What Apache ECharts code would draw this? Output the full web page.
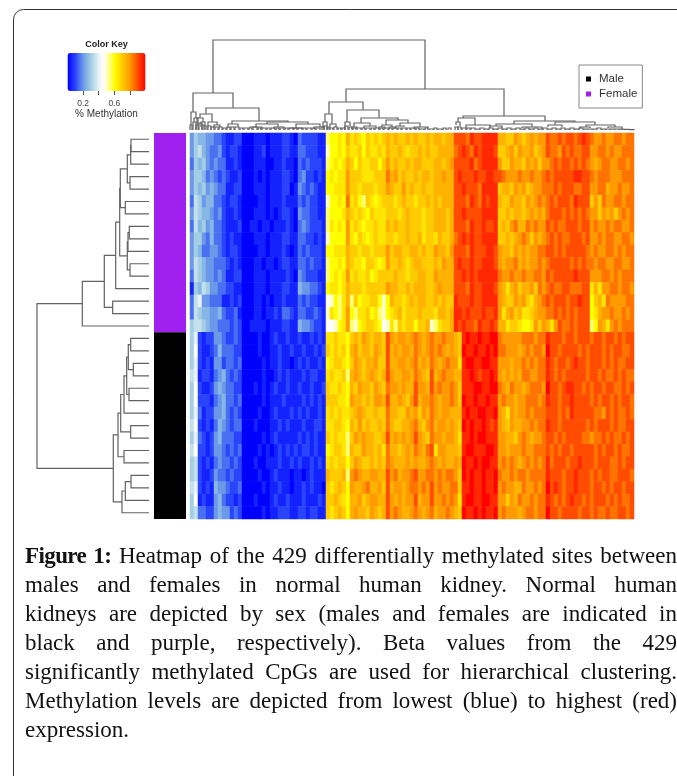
<!DOCTYPE html>
<html>
<head>
<meta charset="utf-8">
<script src="https://cdn.jsdelivr.net/npm/echarts@6/dist/echarts.min.js"></script>
<style>
html,body{margin:0;padding:0;background:#fff;overflow:hidden}
#chart{position:absolute;left:0;top:0;width:677px;height:776px}
#caption{position:absolute;left:25px;top:541px;width:652px;font-family:"Liberation Serif",serif;font-size:23px;line-height:29px;color:#111}
#caption div{text-align:justify;text-align-last:justify;white-space:nowrap}
#caption div:last-child{text-align-last:left}
#caption b{letter-spacing:-0.6px}
</style>
</head>
<body>
<div id="chart"></div>
<div id="caption"></div>
<script>
const levelColors = ['#0000ff','#1422ff','#2a44fb','#4a70f2','#6c98ea','#88b6e6','#a4cee6','#c4e0ec','#e6f2f6','#ffffff','#ffffc8','#ffff70','#ffff00','#ffe600','#ffcc00','#ffb300','#ff9a00','#ff7400','#ff4c00','#ff2800','#ff0000'];
const femaleBlue = [
'egffeeddc bbcc aaabbbabbb ccba dccccbb','eghfeddec bccb aaabbcabbb ccbb ddcccbb','dgfgededd bbcb aaabbbaabb cbba dcdcccb','eggfdedcd cbbc aaabababbb ccba deccbcb',
'egfgefedd bbcc aaabbbabbb ccab edcdcbb','dhgeffddc bccb aaaabbabbb cbbb dcdccbb','ehgffedec bbcb aaabbbabab ccba eddccbb','dhfgefddc bbbc aabbabbabb bcba dedcccb',
'eggedfddc bcbb aaabbbabbb ccbb ddccbcb','egfddeedc bccb aaaabbabbb cbab dcdcccb','ehgfeeddd cbcb aaabbabbab ccbb ddcdccb','dhgfeeded bbcc aaabbbabbb bcba edcccbb',
'bgfhgeedd ccbb aaabbbabbb ccbb feeddcb','dhieedddb bcbc aaabbababb cbbb dcdccbb','dhgffeefd ccdb aaabbabbcb ddcb ddccdcb','ghhgfeedd dcdc aabbbbabbb ccbb feedccb'];
const femaleYellow = [
'lmmnm p nonmonono p opoopopoopoppopp s','kmmnm o nnomonnon p ooponoopopoopppp r','lmnmn p omonnoomo q opoopoppoooppopq s','mnmnn q ooonnnooo r pqopoopoppoppqpp s',
'mmnnn q oonooonoo q pooqopoopooppppp s','kmmnm r nomlonmno o onopoonoopopoppp s','lmmmn p ononmonnn o oonopooonoopppop s','lnmnm q nonmnnonn p opoopooonoopppop s',
'kmmmm q nmonmnonn o onoopoopnoonpoop r','mmnnn p oonoonooo q oppooppopooqppoq s','lmmnm p onnmoonmn q ooponoppooopoqpp s','lmnmn q nonnomnoo o opoonooppooqpppp s',
'mnnmn p ooonooooo q ppoopopppoopqppp s','jkmln p lomnnoomk m poonopoppoopopoo t','knmln q mlnnomnlk m nopnooopooonppop t','jjkmn q lkmnoonmj k nlonoomoopklnoop t'];
const femaleRed = [
'ssrtsstttt ppooqpopqpqq srrsrssrsts rqqrqqrrqrr','stsrtsttts oopqoqppqopq srrqsrsrrss qqrrqrqqrrr','ssstrstttt qooqppoqpqoq qrsrssrsrsr qpqrrqqrrqr','tssstsstts srqqqrqqrqqr srsssssttss rqrrrqqqrrr',
'stsssrtttt oppoqpqopqqr rrsrsssrrss qqrrpqqrqqr','ssrtsrtstt pooqppoqpqrq rsrsssrtsss oqorqqrrqrr','stsssstttt oopoppopqpqp rsssrsrsrsr qqoqpqoqrqr','ssrtsstsst opoqrpprqrqq srsrrsssrss qrqqrqrrqqr',
'ststsstttt oopopqrqoqpq rsrsrrsssrs qqrqrrqqrrq','ssrtssstts qppoqpqpqqrr ssrsrsssssr qrqqrrqrqrr','tsstssttts qpqqrpqpqqrq rsssssrsrsr rqrrqqrrqqr','stststtttt rqqrqqrqqrrq srssssstsss qqqrrqrqrrr',
'ssrtssttts qpnpqoppqorq rsrrssrrrss npnqqrrqrrq','ssstsstttt qpooqpqonpqr srsssrsstss mopnrqqqqrr','tstssstsst qnpqopnnopqq rrsrsrsrsss mnpqqrqqrqr','stssrtssts ppnoonmmnqoq pnqsrrsrsss lmqpnqrqrrr'];
const maleBlue = [
'gi cbcc eedc cdc aa aabaab cbbcb bcbbcbcb','gj cbbc dfdd dcc aa aabaab bcbbc bbcbbcbc','gi cbcb eecd dcd aa aaabab bcbba bcbcbbcb','hi bccb defd cdc aa aaabaa bcbcb bbcbccbb','gj cbbc efed dcc aa ababab cbbcb bcbbcbbc',
'gj cccb defd dcd aa aaabab bbcbb bbcbcbcb','gi dbcc eefd cdc aa aabaab cbbbc bcbcbbcb','hj cbcb dfed cdd aa abaaab bcbcb bbcbbccb','gi dcbc efdd dcc aa aaabab cbbbb bcbcbcbb','hj ccbc eedc dcd aa aababa bcbcb cbccbcbb',
'gh cbcb dedd cdc aa abaabb bcbbc bcbbcbcb','gh cbbc eddc dcc aa aabaab cbbba bbabcbbb','hi cbcb feed ccd aa aaabab bcbba bbcbcbba','gj bcbb efdc cbc aa abaaab cbbcb bbcbbbcb','gh ddcc efee cdc aa aaabab bcccb bccbccbb'];
const maleYellow = [
'nnonn m opoqpoppo s qpqqpq r qpq r qqrqqp','onono m pqoppoqpo s pqpqqp r qpq r qrqpqp','mnoon m oqpoppqoo s ppqqpq r pqp r qpqrqq','nonno l pqpopqpop s qppqqp r qpo s pqrqqp','onnon m poqppoqpo r qqpqpp s qqp s qrqqrq',
'ooonn m qppopoqqp s ppqpoq s pqq r qpqqrq','nonon n opqpoopoo r ppooqp q oqp r qpqqpp','nnoon m poqopoopo r pooppq r poq r pqqpqp','ononn l oqpqppoop s pqpqpq s qpo r qqpqqp','mnoon l pooqppopn r ppopqp r qpr s nqqppp',
'nonoo m oqpoopopo r qpppqp q ppq r qpqppq','pooop l qrqppqqpp s qrpqqr s qqr r qrqrrq','onopo m qppqrppqo s pqqpqr r qrq s qrqqrr','oopon m ppqopqqpp s qpqpqq s pqq s qqrqrq','onopo m pqppoqpop s qrqppq r qpq r pqqrqp'];
const maleRed = [
'o tuttuttuu rqqqqqrrrqrr tsssrssrsssrssrssrsrss','o uttuttutu rrqqqpqrqrrq ussrssssrsrsssrsrssrrs','n tuuttuutt qqqpqqrqrqrr tsrssrstssrsssrsrsrrss','p ttutsttut qpqpqprrqqrr tsrsrsssssrssrsrrsrsrr','o tttuuttuu rqprqqpqrrrq ussrsttssrsrssrssrrsrs',
'o uttuttutt qrqqpqqrrrqr tssrsstssssrsrssrsrssr','p tuttuuttu qpnqpqqrqrrr sssrsrtsssssrrqsrsrrsr','o ututtutst qpoqppqqrqrr tssrssssssrsrsssrsrrss','n ttutuuttt qqppoqrqpqqr ssrsrssssrrqrrsrsrrsrs','o tuutttuut qqpqqqrqqrrr srsrssrsssssrsrssrsrrs',
'p uttutuutt qrqrqpqrqrqr trsssrsstsssrsssrrsrss','o ututtuttu rqqrqrrqrrrr tsssrsstsssrsrssrrsssr','o ttuttuttu qrqqpprqqrqr ustsrsstsssrssrsrssrss','n tuuttuutt qqoqprqqrqrr tsrsrstssrsrsssrsrsrrs','o uttututtu qrqqqpqrrqrr ussrssssrssrsrrsrrssrs'];

// Sample groups
const sexGroups = [{name:'Female',count:16,color:'#a020f0'},{name:'Male',count:15,color:'#000000'}];
const legendOrder = ['Male','Female'];

// Row dendrogram in hclust style: negative = leaf -(row+1), positive = earlier merge number, then height
const rowMerges = [
[-1,-2,18],[1,-3,18.3],[-4,-5,19],[2,3,21.7],[-6,-7,23.7],[4,5,28.7],[-8,-9,19.7],[7,-10,21],[-11,-12,19],[8,9,21.7],[6,10,29.3],[11,-13,33.3],[-14,-15,36.3],[12,13,44.7],[14,-16,66.7],
[-17,-18,18.3],[-19,-20,15.7],[16,17,20.7],[-21,-22,20],[18,19,22.3],[20,-23,25],[-24,-25,18.3],[21,22,28.3],[-26,-27,25],[23,24,31],[-28,-29,18],[26,-30,23.7],[27,-31,27],[25,28,35.7],[15,29,112]];

// Column dendrogram: [left position, left height, right position, right height, join height]
const columnMerges = [
[23,37,235,41,90],[3,18,43,22,37],[16,16,69,9,22],[1,5,6,12,18],[4,8,8,5,12],[10,12,22,8,16],[7,6,13,8,12],[11,3,15,4,8],[18,4,27,5,8],[24,2,30,3,5],
[42,6,98,8,9],[38,2,48,3,6],[77,6,118,6,8],[66,3,88,3,6],[106,2,130,3,6],[60,2,72,1,3],[84,1,94,2,3],[100,1,112,1,2],[124,1,134,2,3],
[156,28,314,14,41],[139,16,173,20,28],[135,8,142,6,16],[133,3,137,4,8],[140,2,146,3,6],[157,8,189,12,20],[155,2,160,4,8],[171,7,208,10,12],[164,3,180,4,7],[162,1,167,2,3],[174,2,186,2,4],
[196,5,218,7,10],[192,3,202,3,5],[210,4,230,3,7],[206,2,214,3,4],[224,1,238,2,3],[189,1,195,1,3],[199,1,205,1,3],
[273,12,355,9,14],[268,8,285,5,12],[266,5,270,4,8],[276,2,300,3,5],[324,6,385,8,9],[306,4,342,3,6],[300,2,312,2,4],[332,2,352,1,3],[365,5,405,5,8],[358,3,372,3,5],[396,3,425,3,5],[418,2,432,1,3],[390,1,400,2,3]];

// Finest joins along the baseline: [position, width, height]
const columnLeaves = [
[0,2,5],[3,3,8],[6,2,5],[9,3,7],[12,2,5],[15,2,4],[18,3,4],[21,3,3],[25,3,3],[29,3,3],[33,3,2],[37,3,3],[41,3,3],[45,4,3],[50,3,2],[54,4,2],[59,3,2],[63,4,3],[68,3,2],[72,4,2],[77,3,2],[81,4,2],[86,3,2],[90,4,2],[95,3,2],[99,4,2],[104,3,2],[108,4,2],[113,3,2],[117,4,2],[122,3,2],[126,4,2],
[132,2,3],[134,3,4],[137,2,3],[140,3,2],[144,3,3],[148,3,2],[152,3,2],[155,3,4],[159,3,3],[163,3,2],[167,4,2],[172,3,2],[176,4,2],[181,3,2],[185,4,2],[190,3,2],[194,4,2],[199,3,2],[203,4,2],[208,3,2],[212,4,2],[217,3,2],[221,4,2],[226,3,2],[230,4,1],[235,3,2],[239,4,1],[244,3,2],[248,4,1],[253,3,2],
[258,3,2],[265,3,3],[268,3,3],[272,4,2],[277,3,2],[281,4,2],[286,3,1],[290,4,2],[295,3,1],[299,4,2],[304,3,1],[308,4,2],[313,3,1],[317,4,2],[322,3,1],[326,4,2],[331,3,1],[335,4,2],[340,3,1],[344,4,2],[349,3,1],[353,4,2],[358,3,1],[362,4,2],[367,3,1],[371,4,2],[376,3,1],[380,4,2],[385,3,1],[389,4,2],[394,3,1],[398,4,1],[403,3,1],[407,4,2],[412,3,1],[416,4,1],[421,3,1],[425,4,1],[430,3,.8],[434,5,.6],[439,5,.4]];

const keyTicks = [0.2,0.4,0.6,0.8];
const keyLabels = [0.2,0.6];
const captionLines = [
'<b>Figure 1:</b> Heatmap of the 429 differentially methylated sites between',
'males and females in normal human kidney. Normal human',
'kidneys are depicted by sex (males and females are indicated in',
'black and purple, respectively). Beta values from the 429',
'significantly methylated CpGs are used for hierarchical clustering.',
'Methylation levels are depicted from lowest (blue) to highest (red)',
'expression.'];

document.getElementById('caption').innerHTML = captionLines.map(l => '<div>' + l + '</div>').join('');

const SITES = 111, BLUE = 34, YEL = 33, RED = 44;
const clean = (s, n) => { s = s.replace(/\s/g,''); while (s.length < n) s += s[s.length-1]; return s.slice(0,n); };
const rows = [];
femaleBlue.forEach((s,i) => rows.push(clean(s,BLUE) + clean(femaleYellow[i],YEL) + clean(femaleRed[i],RED)));
maleBlue.forEach((s,i) => rows.push(clean(s,BLUE) + clean(maleYellow[i],YEL) + clean(maleRed[i],RED)));
const heat = [];
rows.forEach((r,y) => { for (let x = 0; x < SITES; x++) heat.push([x, y, (r.charCodeAt(x) - 97) / 20]); });

// row tree geometry from the merge list
const nodes = {};
const pos = id => id < 0 ? {y: -id - 0.5, h: 0} : nodes[id];
const rowSegs = rowMerges.map((m,i) => {
  const a = pos(m[0]), b = pos(m[1]);
  nodes[i+1] = {y: (a.y + b.y) / 2, h: m[2]};
  return [a.h, a.y, b.h, b.y, m[2]];
});
const topSegs = columnMerges.concat(columnLeaves.map(l => [l[0], 0, l[0] + l[1], 0, l[2]]));

const STROKE = '#626262';
const topTree = (p, api) => {
  const a = api.coord([api.value(0), api.value(1)]), b = api.coord([api.value(2), api.value(3)]);
  const ya = api.coord([0, api.value(4)])[1];
  return {type:'polyline', shape:{points:[a,[a[0],ya],[b[0],ya],b]}, style:{stroke:STROKE, fill:null, lineWidth:1.2}};
};
const sideTree = (p, api) => {
  const a = api.coord([api.value(0), api.value(1)]), b = api.coord([api.value(2), api.value(3)]);
  const xa = api.coord([api.value(4), 0])[0];
  return {type:'polyline', shape:{points:[a,[xa,a[1]],[xa,b[1]],b]}, style:{stroke:STROKE, fill:null, lineWidth:1.2}};
};
const FONT = '"Liberation Sans",Arial,sans-serif';
const total = sexGroups.reduce((s,g) => s + g.count, 0);

const chart = echarts.init(document.getElementById('chart'), null, {renderer:'canvas', width:677, height:776});
chart.setOption({
  animation:false,
  backgroundColor:'#fff',
  graphic:[{type:'rect', shape:{x:13.5,y:9.5,width:720,height:830,r:10}, style:{fill:'none',stroke:'#333',lineWidth:1}, silent:true, z:-1}],
  title:[{text:'Color Key', left:106.5, top:40, textAlign:'center', textStyle:{fontFamily:FONT,fontSize:9,fontWeight:'bold',color:'#222'}, padding:0}],
  legend:{data:legendOrder, orient:'vertical', left:579, top:65, icon:'rect', itemWidth:5, itemHeight:5, itemGap:3, padding:[8,5,8,7],
    borderColor:'#888', borderWidth:1, textStyle:{fontFamily:FONT,fontSize:11.5,color:'#333',padding:[0,0,0,3]}, selectedMode:false},
  visualMap:[{type:'continuous', seriesIndex:0, min:0, max:1, orient:'horizontal', left:62.5, top:48, itemWidth:38, itemHeight:78, text:null, showLabel:false,
    calculable:false, hoverLink:false, realtime:false, inRange:{color:levelColors}, padding:5, silent:true}],
  grid:[
    {left:190, top:133, width:444, height:386},
    {left:190, top:40, width:444, height:90},
    {left:37, top:133, width:112, height:386},
    {left:154, top:133, width:32, height:386},
    {left:67.5, top:53, width:78, height:38}
  ],
  xAxis:[
    {gridIndex:0, type:'category', data:Array.from({length:SITES},(_, i)=>i), show:false},
    {gridIndex:1, type:'value', min:0, max:444, show:false},
    {gridIndex:2, type:'value', min:0, max:112, inverse:true, show:false},
    {gridIndex:3, type:'category', data:['Sex'], show:false},
    {gridIndex:4, type:'value', min:0, max:1, interval:0.2, position:'bottom',
      axisLine:{show:false}, splitLine:{show:false},
      axisTick:{show:true, length:4, lineStyle:{color:'#555'}, customValues:keyTicks},
      axisLabel:{show:true, margin:8, fontFamily:FONT, fontSize:8.5, color:'#444', customValues:keyLabels, hideOverlap:false, formatter:v=>v.toFixed(1)},
      name:'% Methylation', nameLocation:'middle', nameGap:16, nameTextStyle:{fontFamily:FONT,fontSize:10,color:'#333'}}
  ],
  yAxis:[
    {gridIndex:0, type:'category', data:Array.from({length:total},(_, i)=>i), inverse:true, show:false},
    {gridIndex:1, type:'value', min:0, max:90, show:false},
    {gridIndex:2, type:'value', min:0, max:total, inverse:true, show:false},
    {gridIndex:3, type:'value', min:0, max:total, inverse:true, show:false},
    {gridIndex:4, type:'value', min:0, max:1, show:false}
  ],
  series:[
    {type:'heatmap', xAxisIndex:0, yAxisIndex:0, data:heat, silent:true, progressive:0, itemStyle:{borderWidth:0}, emphasis:{disabled:true}},
    {type:'custom', xAxisIndex:1, yAxisIndex:1, data:topSegs, renderItem:topTree, silent:true, encode:{x:[0,2],y:[1,3,4]}, clip:false},
    {type:'custom', xAxisIndex:2, yAxisIndex:2, data:rowSegs, renderItem:sideTree, silent:true, encode:{x:[0,2,4],y:[1,3]}, clip:false}
  ].concat(sexGroups.map(g => ({type:'bar', name:g.name, xAxisIndex:3, yAxisIndex:3, stack:'sex', barWidth:'100%', data:[g.count], itemStyle:{color:g.color}, silent:true})))
});
</script>
</body>
</html>
